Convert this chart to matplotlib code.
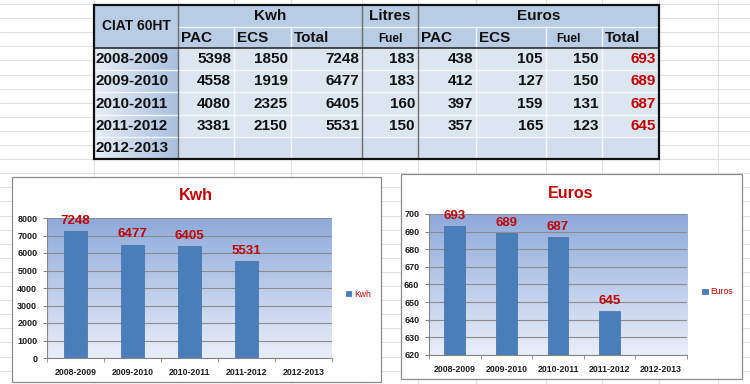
import numpy as np
import matplotlib.pyplot as plt
from matplotlib.patches import Rectangle
from matplotlib.colors import to_rgb

plt.rcParams["font.family"] = ["Liberation Sans", "DejaVu Sans"]

# table values
years = ["2008-2009", "2009-2010", "2010-2011", "2011-2012", "2012-2013"]
kwh_pac = [5398, 4558, 4080, 3381]
kwh_ecs = [1850, 1919, 2325, 2150]
kwh_total = [7248, 6477, 6405, 5531]
fuel_litres = [183, 183, 160, 150]
eur_pac = [438, 412, 397, 357]
eur_ecs = [105, 127, 159, 165]
eur_fuel = [150, 150, 131, 123]
eur_total = [693, 689, 687, 645]

RED = "#C00000"
BAR = "#4A7EBB"
INK = "#111111"
W, H = 750, 384

fig = plt.figure(figsize=(W / 100, H / 100), dpi=100)
bg = fig.add_axes([0, 0, 1, 1])
bg.set_xlim(0, W)
bg.set_ylim(H, 0)
bg.axis("off")

# spreadsheet grid behind everything
for y in np.arange(4, H, 14.1):
    bg.plot([0, W], [y, y], color="#DCDCDC", lw=0.6, zorder=0)
for x in [94, 178, 234, 291, 362, 418, 476, 546, 602, 659, 718]:
    bg.plot([x, x], [0, H], color="#DCDCDC", lw=0.6, zorder=0)

# ---- table ----
cols = [94, 178, 234, 291, 362, 418, 476, 546, 602, 659]
rows = [5, 27, 48, 70, 92, 115, 137, 159]
top, hdr, bot = rows[0], rows[2], rows[-1]

bg.add_patch(Rectangle((cols[0], top), cols[-1] - cols[0], hdr - top,
                       fc="#B8CCE4", ec="none", zorder=1))
bg.add_patch(Rectangle((cols[1], hdr), cols[-1] - cols[1], bot - hdr,
                       fc="#DCE6F1", ec="none", zorder=1))
bg.add_patch(Rectangle((cols[1], rows[6]), cols[-1] - cols[1], bot - rows[6],
                       fc="#D2DEEE", ec="none", zorder=1))
grad = np.linspace(to_rgb("#E6EDF6"), to_rgb("#A9C0DF"), 64)[None, :, :]
bg.imshow(grad, extent=(cols[0], cols[1], bot, hdr), aspect="auto", zorder=1)

light = dict(color="#F4F7FB", lw=1.0, zorder=2)
dark = dict(color="#6E6E6E", lw=1.0, zorder=3)
for y in rows[3:-1]:
    bg.plot([cols[0], cols[-1]], [y, y], **light)
bg.plot([cols[1], cols[-1]], [rows[1], rows[1]], **light)
for x in [234, 291, 476, 546, 602]:
    bg.plot([x, x], [rows[1], bot], **light)
for x in [178, 362, 418]:
    bg.plot([x, x], [top, bot], **dark)
bg.plot([cols[0], cols[-1]], [hdr, hdr], color="#303030", lw=1.2, zorder=3)
bg.add_patch(Rectangle((cols[0], top), cols[-1] - cols[0], bot - top,
                       fc="none", ec="#111111", lw=1.6, zorder=4))

def cell(x, y, s, ha="left", size=11, color=INK):
    bg.text(x, y, s, ha=ha, va="center", fontsize=size, fontweight="bold",
            color=color, zorder=5)

mid = lambda a, b: (a + b) / 2
cell(mid(cols[0], cols[1]), mid(rows[0], rows[2]), "CIAT 60HT", ha="center", size=10)
cell(mid(cols[1], cols[4]), mid(rows[0], rows[1]), "Kwh", ha="center")
cell(mid(cols[4], cols[5]), mid(rows[0], rows[1]), "Litres", ha="center")
cell(mid(cols[5], cols[9]), mid(rows[0], rows[1]), "Euros", ha="center")
r2 = mid(rows[1], rows[2]) + 1
for x, s in [(cols[1], "PAC"), (cols[2], "ECS"), (cols[3], "Total"),
             (cols[5], "PAC"), (cols[6], "ECS"), (cols[8], "Total")]:
    cell(x + 3, r2, s)
cell(mid(cols[4], cols[5]), r2, "Fuel", ha="center", size=8.5)
cell(mid(cols[7], cols[8]) - 6, r2, "Fuel", ha="center", size=8.5)

table_cols = [kwh_pac, kwh_ecs, kwh_total, fuel_litres, eur_pac, eur_ecs, eur_fuel, eur_total]
for i, year in enumerate(years):
    yc = mid(rows[i + 2], rows[i + 3])
    cell(cols[0] + 2, yc, year)
    if i >= len(kwh_total):
        continue
    for j, series in enumerate(table_cols):
        color = RED if series is eur_total else INK
        cell(cols[j + 2] - 3, yc, str(series[i]), ha="right", color=color)

# ---- charts ----
def chart(box, plot, title_xy, title, values, ylim, step, legend_xy):
    bx0, by0, bx1, by1 = box
    bg.add_patch(Rectangle((bx0, by0), bx1 - bx0, by1 - by0,
                           fc="white", ec="#8C8C8C", lw=0.9, zorder=6))
    px0, py0, px1, py1 = plot
    ax = fig.add_axes([px0 / W, 1 - py1 / H, (px1 - px0) / W, (py1 - py0) / H])
    ax.set_zorder(7)
    ax.patch.set_visible(False)
    g = np.linspace(to_rgb("#8EAADB"), to_rgb("#E9EEF8"), 128)[:, None, :]
    ax.imshow(g, extent=(0, 1, 0, 1), transform=ax.transAxes, aspect="auto", zorder=0)

    x = np.arange(len(values))
    bars = ax.bar(x, values, width=0.4, color=BAR, edgecolor="#3F6FA6",
                  lw=0.5, label=title, zorder=2)
    ax.bar_label(bars, padding=3, fontsize=9.5, fontweight="bold", color=RED)

    ax.set_xlim(-0.5, len(years) - 0.5)
    ax.set_ylim(*ylim)
    ax.set_yticks(np.arange(ylim[0], ylim[1] + step / 2, step))
    ax.set_xticks(np.arange(len(years)))
    ax.set_xticklabels(years)
    ax.set_xticks(np.arange(len(years) + 1) - 0.5, minor=True)
    ax.tick_params(axis="x", which="major", length=0, pad=7, labelsize=6.3)
    ax.tick_params(axis="x", which="minor", length=3, color="#868686")
    ax.tick_params(axis="y", length=3, color="#868686", pad=4, labelsize=6.5)
    for lab in ax.get_xticklabels() + ax.get_yticklabels():
        lab.set_fontweight("bold")
        lab.set_color("#1E1E1E")
    ax.yaxis.grid(True, color="#8C8C8C", lw=0.8)
    ax.set_axisbelow(True)
    for side in ["top", "right"]:
        ax.spines[side].set_visible(False)
    for side in ["left", "bottom"]:
        ax.spines[side].set_color("#868686")
        ax.spines[side].set_linewidth(0.8)

    ax.legend(loc="center left", bbox_to_anchor=legend_xy, frameon=False,
              fontsize=6.2, handlelength=0.6, handleheight=0.6,
              handletextpad=0.35, borderpad=0, borderaxespad=0, labelcolor=RED)
    fig.text(title_xy[0] / W, 1 - title_xy[1] / H, title, ha="center", va="center",
             fontsize=11.5, fontweight="bold", color=RED, zorder=8)
    return ax

chart((12, 177, 381, 382), (47, 218, 332, 358), (196, 196), "Kwh",
      kwh_total, (0, 8000), 1000, (1.05, 0.457))
chart((401, 174, 742, 379), (429, 214, 687, 355), (571, 193), "Euros",
      eur_total, (620, 700), 10, (1.06, 0.447))

fig.savefig("out.png", dpi=100)
